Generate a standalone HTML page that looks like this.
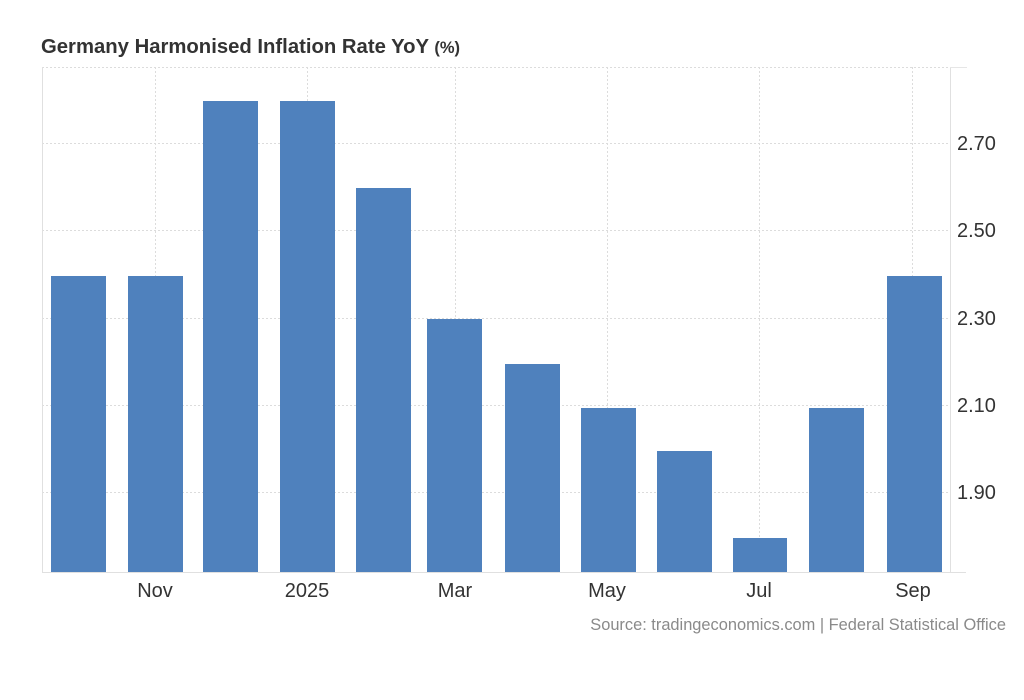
<!DOCTYPE html>
<html><head><meta charset="utf-8"><style>
html,body{margin:0;padding:0;background:#fff;width:1024px;height:700px;overflow:hidden}
svg{display:block;font-family:"Liberation Sans",Arial,sans-serif}
</style></head><body>
<svg width="1024" height="700" viewBox="0 0 1024 700">
<rect width="1024" height="700" fill="#fff"/>
<text x="41" y="53" font-size="20.3" font-weight="bold" fill="#333">Germany Harmonised Inflation Rate YoY <tspan font-size="16.5">(%)</tspan></text>
<g stroke="#dcdcdc" stroke-width="1" stroke-dasharray="2,2">
<line x1="42" y1="67.5" x2="950" y2="67.5"/>
<line x1="42" y1="143.5" x2="950" y2="143.5"/>
<line x1="42" y1="230.5" x2="950" y2="230.5"/>
<line x1="42" y1="318.5" x2="950" y2="318.5"/>
<line x1="42" y1="405.5" x2="950" y2="405.5"/>
<line x1="42" y1="492.5" x2="950" y2="492.5"/>
<line x1="155.5" y1="67" x2="155.5" y2="572"/>
<line x1="307.5" y1="67" x2="307.5" y2="572"/>
<line x1="455.5" y1="67" x2="455.5" y2="572"/>
<line x1="607.5" y1="67" x2="607.5" y2="572"/>
<line x1="759.5" y1="67" x2="759.5" y2="572"/>
<line x1="912.5" y1="67" x2="912.5" y2="572"/>
</g>
<line x1="42.5" y1="67" x2="42.5" y2="572" stroke="#e0e0e0"/>
<line x1="950.5" y1="67" x2="950.5" y2="572" stroke="#e0e0e0"/>
<line x1="950" y1="67.5" x2="967" y2="67.5" stroke="#e6e6e6"/>
<g fill="#4f81bd">
<rect x="51" y="276" width="55" height="296"/>
<rect x="128" y="276" width="55" height="296"/>
<rect x="203" y="101" width="55" height="471"/>
<rect x="280" y="101" width="55" height="471"/>
<rect x="356" y="188" width="55" height="384"/>
<rect x="427" y="319" width="55" height="253"/>
<rect x="505" y="364" width="55" height="208"/>
<rect x="581" y="408" width="55" height="164"/>
<rect x="657" y="451" width="55" height="121"/>
<rect x="733" y="538" width="54" height="34"/>
<rect x="809" y="408" width="55" height="164"/>
<rect x="887" y="276" width="55" height="296"/>
</g>
<line x1="42" y1="572.5" x2="966" y2="572.5" stroke="#e0e0e0"/>
<g font-size="20" fill="#333">
<text x="957" y="150">2.70</text>
<text x="957" y="237">2.50</text>
<text x="957" y="325">2.30</text>
<text x="957" y="412">2.10</text>
<text x="957" y="499">1.90</text>
</g>
<g font-size="20" fill="#333" text-anchor="middle">
<text x="155" y="597">Nov</text>
<text x="307" y="597">2025</text>
<text x="455" y="597">Mar</text>
<text x="607" y="597">May</text>
<text x="759" y="597">Jul</text>
<text x="913" y="597">Sep</text>
</g>
<text x="1006" y="630" font-size="16.4" fill="#8a8a8a" text-anchor="end">Source: tradingeconomics.com | Federal Statistical Office</text>
</svg>
</body></html>
